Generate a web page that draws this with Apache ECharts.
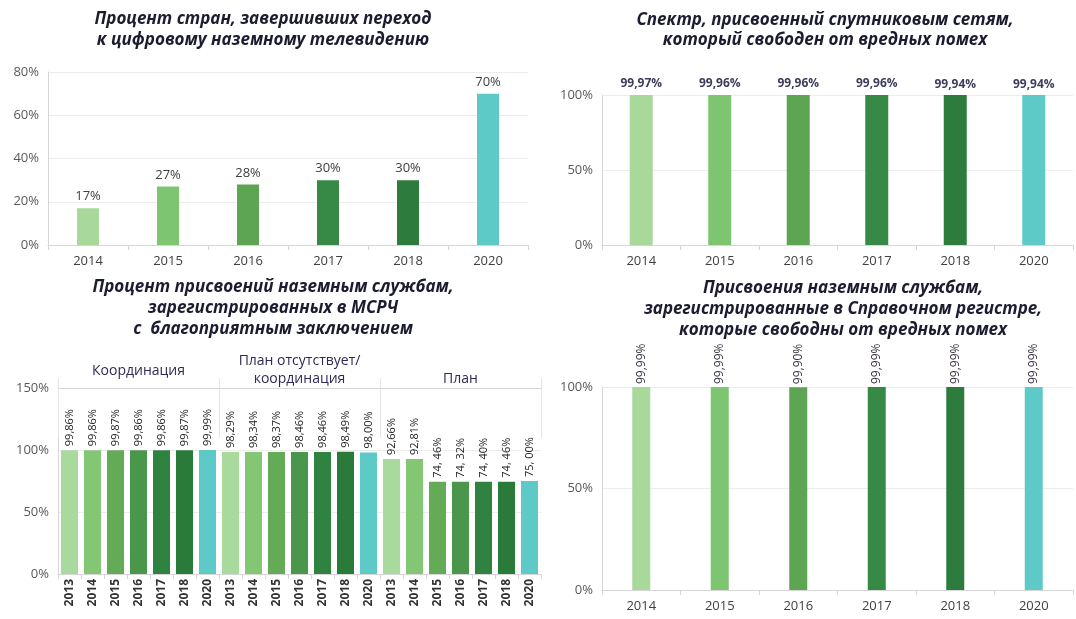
<!DOCTYPE html>
<html>
<head>
<meta charset="utf-8">
<script src="https://cdn.jsdelivr.net/npm/echarts@6/dist/echarts.min.js"></script>
<style>
  html, body { margin: 0; padding: 0; background: #fff; }
  #main { width: 1076px; height: 619px; }
</style>
</head>
<body>
<div id="main"></div>
<script>
// данные
var years = ['2014', '2015', '2016', '2017', '2018', '2020'];
var digitalTv = [17, 27, 28, 30, 30, 70];
var satFree = [99.97, 99.96, 99.96, 99.96, 99.94, 99.94];
var terrRefFree = [99.99, 99.99, 99.90, 99.99, 99.99, 99.99];

var mifrYears = ['2013', '2014', '2015', '2016', '2017', '2018', '2020'];
var mifrGroups = ['Координация', 'План отсутствует/\nкоординация', 'План'];
var coordVals = [99.86, 99.86, 99.87, 99.86, 99.86, 99.87, 99.99];
var noPlanVals = [98.29, 98.34, 98.37, 98.46, 98.46, 98.49, 98.00];
var planVals = [92.66, 92.81, 74.46, 74.32, 74.40, 74.46, 75.00];

var yearColors = {
  '2013': '#a9da9d', '2014': '#a8d99b', '2015': '#7ec571', '2016': '#5da552',
  '2017': '#368a46', '2018': '#2d7c3d', '2020': '#5ecac7'
};
var mifrColors = ['#a9da9d', '#83c775', '#63ab57', '#4a974c', '#2f8240', '#2a7a3a', '#5ecac7'];

var font = 'Open Sans';
var gridColor = '#ececec';
var axisColor = '#d6d6d6';

function pct(v, sep) {
  return v.toFixed(2).replace('.', sep || ',') + '%';
}

// 21 столбец нижнего левого графика
var mifrCats = [], mifrData = [], mifrLabels = [];
[coordVals, noPlanVals, planVals].forEach(function (arr, g) {
  arr.forEach(function (v, i) {
    mifrCats.push(mifrYears[i]);
    mifrData.push({ value: v, itemStyle: { color: mifrColors[i] } });
    mifrLabels.push(pct(v, g === 2 && v < 90 ? ', ' : ','));
  });
});

function colored(vals) {
  return vals.map(function (v, i) {
    return { value: v, itemStyle: { color: yearColors[years[i]] } };
  });
}

function titleBlock(text, cx, top, lh) {
  return {
    text: text,
    left: cx,
    top: top,
    textAlign: 'center',
    textStyle: {
      fontFamily: font, fontSize: 17, fontWeight: 'bold', fontStyle: 'italic',
      color: '#1c1c30', lineHeight: lh || 21
    }
  };
}

function valAxis(grid, max, interval) {
  return {
    type: 'value', gridIndex: grid, min: 0, max: max, interval: interval,
    axisLine: { show: true, lineStyle: { color: axisColor } },
    axisTick: { show: false },
    splitLine: { lineStyle: { color: gridColor } },
    axisLabel: { formatter: '{value}%', color: '#595959', fontFamily: font, fontSize: 13, margin: 9 }
  };
}

function yearAxis(grid, data) {
  return {
    type: 'category', gridIndex: grid, data: data,
    axisLine: { lineStyle: { color: axisColor } },
    axisTick: { show: true, length: 5, lineStyle: { color: axisColor } },
    axisLabel: { color: '#404040', fontFamily: font, fontSize: 13, margin: 10 }
  };
}

var chart = echarts.init(document.getElementById('main'));
chart.setOption({
  animation: false,
  title: [
    titleBlock('Процент стран, завершивших переход\nк цифровому наземному телевидению', 258, 4),
    titleBlock('Спектр, присвоенный спутниковым сетям,\nкоторый свободен от вредных помех', 820, 5, 20),
    titleBlock('Процент присвоений наземным службам,\nзарегистрированных в МСРЧ\nс  благоприятным заключением', 268, 272),
    titleBlock('Присвоения наземным службам,\nзарегистрированные в Справочном регистре,\nкоторые свободны от вредных помех', 838, 273)
  ],
  grid: [
    { left: 48, top: 72, width: 480, height: 173 },
    { left: 602, top: 95, width: 471, height: 150 },
    { left: 58, top: 388, width: 483, height: 186 },
    { left: 602, top: 387, width: 471, height: 203 }
  ],
  xAxis: [
    yearAxis(0, years),
    yearAxis(1, years),
    {
      type: 'category', gridIndex: 2, data: mifrCats,
      axisLine: { lineStyle: { color: axisColor } },
      axisTick: { show: true, length: 5, lineStyle: { color: axisColor } },
      axisLabel: { rotate: 90, interval: 0, color: '#333', fontFamily: font, fontSize: 12, fontWeight: 'bold', margin: 5 }
    },
    yearAxis(3, years),
    {
      type: 'category', gridIndex: 2, position: 'top',
      axisLine: { show: true, lineStyle: { color: axisColor } },
      axisTick: { show: true, inside: true, length: 50, lineStyle: { color: '#e4e4e4' } },
      axisLabel: { color: '#2f2a55', fontFamily: font, fontSize: 14, margin: 0, lineHeight: 18 },
      data: [
        { value: mifrGroups[0], textStyle: { padding: [0, 0, 8, 0] } },
        { value: mifrGroups[1] },
        { value: mifrGroups[2] }
      ]
    },
    {
      type: 'category', gridIndex: 2, position: 'top', data: mifrGroups,
      axisLine: { show: false },
      axisTick: { show: true, length: 10, lineStyle: { color: '#e4e4e4' } },
      axisLabel: { show: false }
    }
  ],
  yAxis: [
    valAxis(0, 80, 20),
    valAxis(1, 100, 50),
    valAxis(2, 150, 50),
    valAxis(3, 100, 50)
  ],
  series: [
    {
      type: 'bar', xAxisIndex: 0, yAxisIndex: 0, barWidth: 22,
      data: colored(digitalTv),
      label: { show: true, position: 'top', distance: 5, color: '#404040', fontFamily: font, fontSize: 13,
        formatter: function (p) { return p.value + '%'; } }
    },
    {
      type: 'bar', xAxisIndex: 1, yAxisIndex: 1, barWidth: 23,
      data: colored(satFree),
      label: { show: true, position: 'top', distance: 5, color: '#3d3d5c', fontFamily: font, fontSize: 12, fontWeight: 'bold',
        formatter: function (p) { return pct(p.value); } }
    },
    {
      type: 'bar', xAxisIndex: 2, yAxisIndex: 2, barWidth: 17,
      data: mifrData,
      label: { show: true, position: 'top', rotate: 90, align: 'left', verticalAlign: 'middle', distance: 4,
        color: '#222', fontFamily: font, fontSize: 11,
        formatter: function (p) { return mifrLabels[p.dataIndex]; } }
    },
    {
      type: 'bar', xAxisIndex: 3, yAxisIndex: 3, barWidth: 18,
      data: colored(terrRefFree),
      label: { show: true, position: 'top', rotate: 90, align: 'left', verticalAlign: 'middle', distance: 3,
        color: '#3a3242', fontFamily: font, fontSize: 12,
        formatter: function (p) { return pct(p.value); } }
    }
  ]
});
</script>
</body>
</html>
